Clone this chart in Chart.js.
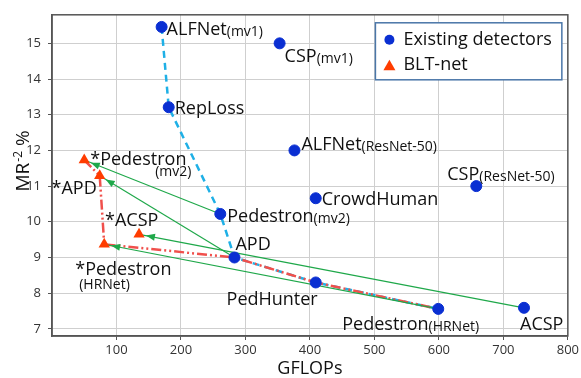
<!DOCTYPE html>
<html><head><meta charset="utf-8">
<script src="https://cdn.jsdelivr.net/npm/chart.js@4/dist/chart.umd.min.js"></script>
<style>html,body{margin:0;padding:0;background:#fff}canvas{display:block}</style>
</head><body>
<canvas id="c" width="581" height="378"></canvas>
<script>
// ---- data ----
const existingNames = ['ALFNet','CSP','RepLoss','ALFNet','CSP','CrowdHuman','Pedestron','APD','PedHunter','Pedestron','ACSP'];
const existingSubs  = ['(mv1)','(mv1)','','(ResNet-50)','(ResNet-50)','','(mv2)','','','(HRNet)',''];
const existingGFLOPs = [170, 353, 181, 376, 658, 409, 261, 283, 409, 599, 732];
const existingMR     = [15.46, 15.0, 13.21, 12.0, 11.0, 10.66, 10.22, 9.0, 8.3, 7.56, 7.59];

const bltNames  = ['*Pedestron','*APD','*ACSP','*Pedestron'];
const bltSubs   = ['(mv2)','','','(HRNet)'];
const bltGFLOPs = [50, 74, 135, 81];
const bltMR     = [11.73, 11.29, 9.65, 9.37];

const existingFrontIdx = [0, 2, 6, 7, 8, 9];
const bltFrontIdx      = [0, 1, 3];
const bltFrontTailIdx  = [7, 8, 9]; // existing points continuing the BLT front
const arrowFromIdx = [6, 7, 10, 9]; // existing
const arrowToIdx   = [0, 1, 2, 3];  // blt

const xTicks = [100, 200, 300, 400, 500, 600, 700, 800];
const yTicks = [7, 8, 9, 10, 11, 12, 13, 14, 15];
const legendLabels = ['Existing detectors', 'BLT-net'];

// ---- styles ----
const BLUE = '#0a2fd2', RED = '#ff3c00', LBLUE = '#1fb0e6', REDLINE = '#f0504c', GREEN = '#1fa84a';
const FONT = '"Open Sans", "DejaVu Sans", sans-serif';
const existingLabelLayout = [
  {a:'left', dx:5,  dy:2},
  {a:'left', dx:5,  dy:12},
  {a:'left', dx:6,  dy:0},
  {a:'left', dx:7,  dy:-7},
  {a:'left', dx:-29,dy:-13},
  {a:'left', dx:6,  dy:0},
  {a:'left', dx:7,  dy:2},
  {a:'left', dx:1,  dy:-14},
  {a:'right',dx:2,  dy:16},
  {a:'left', dx:-96,dy:15},
  {a:'left', dx:-4, dy:16}
];
const bltLabelLayout = [
  {a:'left', dx:6,  dy:-2, sdx:71, sdy:11},
  {a:'right',dx:-3, dy:12},
  {a:'left', dx:-34,dy:-15},
  {a:'left', dx:-29,dy:24, sdx:-25, sdy:40}
];

const pts = (xs, ys, idx) => idx.map(i => ({x: xs[i], y: ys[i]}));
const existingPts = existingGFLOPs.map((x,i)=>({x, y: existingMR[i]}));
const bltPts = bltGFLOPs.map((x,i)=>({x, y: bltMR[i]}));

const arrowSets = arrowFromIdx.map((f,k)=>({
  type:'line', label:'arrow'+k, order:1,
  data:[{x:existingGFLOPs[f], y:existingMR[f]}, {x:bltGFLOPs[arrowToIdx[k]], y:bltMR[arrowToIdx[k]]}],
  borderColor:GREEN, borderWidth:1.2, pointRadius:0, fill:false, tension:0
}));

const labelPlugin = {
  id:'labels',
  afterDatasetsDraw(chart){
    const {ctx, scales:{x, y}} = chart;
    ctx.save();
    ctx.fillStyle = '#111';
    const draw = (names, subs, xs, ys, lay) => {
      names.forEach((n,i)=>{
        const px = x.getPixelForValue(xs[i]), py = y.getPixelForValue(ys[i]);
        const L = lay[i];
        const base = py + L.dy + 6.5;
        ctx.font = '18px ' + FONT;
        const wMain = ctx.measureText(n).width;
        let wSub = 0;
        const inlineSub = subs[i] && L.sdx === undefined;
        if (inlineSub){ ctx.font = '14px ' + FONT; wSub = ctx.measureText(subs[i]).width; }
        const total = wMain + wSub;
        let sx = L.a === 'left' ? px + L.dx : px + L.dx - total;
        ctx.textAlign = 'left'; ctx.textBaseline = 'alphabetic';
        ctx.font = '18px ' + FONT;
        ctx.fillText(n, sx, base);
        if (inlineSub){ ctx.font = '14px ' + FONT; ctx.fillText(subs[i], sx + wMain, base + 1); }
        else if (subs[i]){ ctx.font = '14px ' + FONT; ctx.fillText(subs[i], px + L.sdx, py + L.sdy + 5); }
      });
    };
    draw(existingNames, existingSubs, existingGFLOPs, existingMR, existingLabelLayout);
    draw(bltNames, bltSubs, bltGFLOPs, bltMR, bltLabelLayout);
    // arrow heads
    ctx.fillStyle = GREEN;
    arrowFromIdx.forEach((f,k)=>{
      const t = arrowToIdx[k];
      const x0 = x.getPixelForValue(existingGFLOPs[f]), y0 = y.getPixelForValue(existingMR[f]);
      const x1 = x.getPixelForValue(bltGFLOPs[t]), y1 = y.getPixelForValue(bltMR[t]);
      const ang = Math.atan2(y1-y0, x1-x0);
      const tipx = x1 - Math.cos(ang)*7, tipy = y1 - Math.sin(ang)*7;
      const len = 9, hw = 3.5;
      const bx = tipx - Math.cos(ang)*len, by = tipy - Math.sin(ang)*len;
      ctx.beginPath();
      ctx.moveTo(tipx, tipy);
      ctx.lineTo(bx - Math.sin(ang)*hw, by + Math.cos(ang)*hw);
      ctx.lineTo(bx + Math.sin(ang)*hw, by - Math.cos(ang)*hw);
      ctx.closePath(); ctx.fill();
    });
    ctx.restore();
  },
  afterDraw(chart){
    const {ctx, chartArea:a} = chart;
    ctx.save();
    ctx.strokeStyle = '#555'; ctx.lineWidth = 1.5;
    ctx.strokeRect(a.left, a.top, a.right - a.left, a.bottom - a.top);
    ctx.translate(a.left - 30, (a.top + a.bottom)/2 - 14);
    ctx.rotate(-Math.PI/2);
    ctx.fillStyle = '#111'; ctx.textBaseline = 'alphabetic'; ctx.textAlign = 'left';
    const f1 = '19px ' + FONT, f2 = '12px ' + FONT;
    ctx.font = f1; const w1 = ctx.measureText('MR').width; const w3 = ctx.measureText(' %').width;
    ctx.font = f2; const w2 = ctx.measureText('-2').width;
    let sx = -(w1 + w2 + w3)/2;
    ctx.font = f1; ctx.fillText('MR', sx, 7);
    ctx.font = f2; ctx.fillText('-2', sx + w1 + 1, 0);
    ctx.font = f1; ctx.fillText(' %', sx + w1 + w2 + 1, 7);
    ctx.restore();
    ctx.save();
    ctx.font = '18px ' + FONT;
    const tw = Math.max(...legendLabels.map(s=>ctx.measureText(s).width));
    const bw = tw + 38, bh = 57;
    const bx = a.right - 6 - bw, by = a.top + 8;
    ctx.fillStyle = '#fff'; ctx.fillRect(bx, by, bw, bh);
    ctx.strokeStyle = '#4a76a8'; ctx.lineWidth = 1.5; ctx.strokeRect(bx, by, bw, bh);
    ctx.fillStyle = BLUE; ctx.beginPath(); ctx.arc(bx + 14, by + 17, 5, 0, Math.PI*2); ctx.fill();
    ctx.fillStyle = RED; ctx.beginPath();
    const tx = bx + 14, ty = by + 43;
    ctx.moveTo(tx, ty - 6); ctx.lineTo(tx + 6, ty + 4.5); ctx.lineTo(tx - 6, ty + 4.5); ctx.closePath(); ctx.fill();
    ctx.fillStyle = '#111'; ctx.textBaseline = 'middle';
    ctx.fillText(legendLabels[0], bx + 28, by + 17);
    ctx.fillText(legendLabels[1], bx + 28, by + 42);
    ctx.restore();
  }
};

new Chart(document.getElementById('c'), {
  type: 'scatter',
  data: {
    datasets: [
      {label: legendLabels[0], data: existingPts, order: 0, backgroundColor: BLUE, borderColor: BLUE,
       pointRadius: 5.5, pointHoverRadius: 5.5, pointStyle: 'circle'},
      {label: legendLabels[1], data: bltPts, order: 0, backgroundColor: RED, borderColor: RED,
       pointRadius: 6.5, pointHoverRadius: 6.5, pointStyle: 'triangle', borderWidth: 0},
      {type:'line', label:'front-existing', order: 3, data: pts(existingGFLOPs, existingMR, existingFrontIdx),
       borderColor: LBLUE, borderWidth: 2.5, borderDash: [7,5], pointRadius: 0, fill: false, tension: 0},
      {type:'line', label:'front-blt', order: 2,
       data: pts(bltGFLOPs, bltMR, bltFrontIdx).concat(pts(existingGFLOPs, existingMR, bltFrontTailIdx)),
       borderColor: REDLINE, borderWidth: 2.5, borderDash: [10,3,2,3,2,3], pointRadius: 0, fill: false, tension: 0},
      ...arrowSets
    ]
  },
  options: {
    responsive: false, animation: false, devicePixelRatio: 1,
    layout: {padding: {top: 7, right: 12, left: 0, bottom: 0}},
    plugins: {legend: {display: false}, tooltip: {enabled: false}},
    scales: {
      x: {
        type: 'linear', min: 0, max: 800,
        afterBuildTicks: s => { s.ticks = xTicks.map(v => ({value: v})); },
        afterFit: s => { s.height = 42; },
        grid: {color: '#cfcfcf', lineWidth: 1, tickColor: '#555', tickLength: 4},
        border: {color: '#555', width: 1.5},
        ticks: {color: '#333', font: {family: FONT, size: 13}, padding: 2, maxRotation: 0},
        title: {display: true, text: 'GFLOPs', color: '#111', font: {family: FONT, size: 18, lineHeight: 1}, padding: 0}
      },
      y: {
        type: 'linear', min: 6.8, max: 15.8,
        afterBuildTicks: s => { s.ticks = yTicks.map(v => ({value: v})); },
        afterFit: s => { s.width = 52; },
        grid: {color: '#cfcfcf', lineWidth: 1, tickColor: '#555', tickLength: 4},
        border: {color: '#555', width: 1.5},
        ticks: {color: '#333', font: {family: FONT, size: 13}, padding: 7}
      }
    }
  },
  plugins: [labelPlugin]
});
</script>
</body></html>
